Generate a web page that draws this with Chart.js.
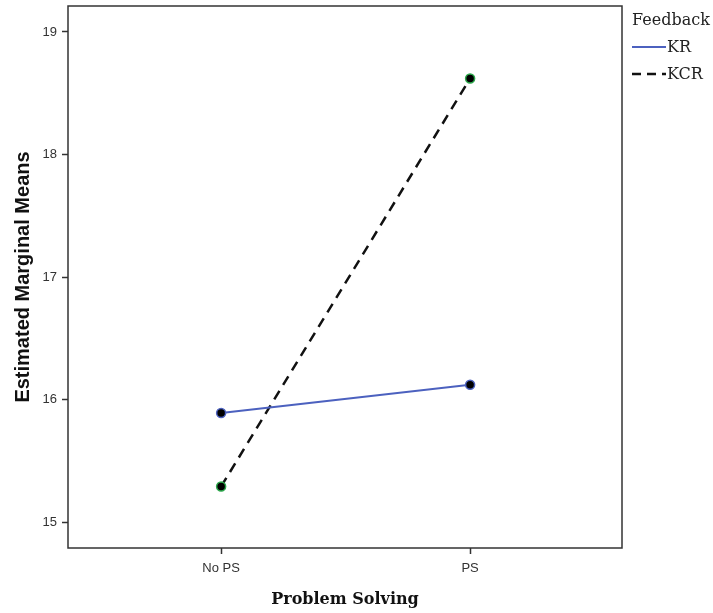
<!DOCTYPE html>
<html>
<head>
<meta charset="utf-8">
<script src="https://cdn.jsdelivr.net/npm/chart.js@4"></script>
<style>
  html, body { margin: 0; padding: 0; background: #fff; }
  #wrap { width: 713px; height: 613px; position: relative; }
</style>
</head>
<body>
<div id="wrap"><canvas id="chart" width="713" height="613"></canvas></div>
<script>
    'use strict';

    // categories on the x axis (positions 0 and 1)
    const categories = ['No PS', 'PS'];
    // estimated marginal means
    const krValues = [15.89, 16.12];
    const kcrValues = [15.29, 18.62];
    const yTicks = [15, 16, 17, 18, 19];

    const seriesNames = ['KR', 'KCR'];
    const legendTitle = 'Feedback';

    const krColor = '#4c61bf';
    const kcrColor = '#111111';

    // draws the plot frame and the legend off to the right
    const frameAndLegend = {
        id: 'frameAndLegend',
        afterDraw(chart) {
            const { ctx, chartArea: a } = chart;
            ctx.save();
            ctx.strokeStyle = '#333';
            ctx.lineWidth = 1.5;
            ctx.strokeRect(a.left, a.top, a.right - a.left, a.bottom - a.top);

            const lx = a.right + 10;
            ctx.font = '16px "DejaVu Serif", serif';
            ctx.fillStyle = '#222';
            ctx.textBaseline = 'middle';
            ctx.textAlign = 'left';
            ctx.fillText(legendTitle, lx, 21);

            // KR entry
            ctx.strokeStyle = krColor;
            ctx.lineWidth = 2;
            ctx.setLineDash([]);
            ctx.beginPath(); ctx.moveTo(lx, 47); ctx.lineTo(lx + 34, 47); ctx.stroke();
            ctx.fillText(seriesNames[0], lx + 35, 48);

            // KCR entry
            ctx.strokeStyle = kcrColor;
            ctx.lineWidth = 2.5;
            ctx.setLineDash([9, 6]);
            ctx.beginPath(); ctx.moveTo(lx, 74); ctx.lineTo(lx + 34, 74); ctx.stroke();
            ctx.setLineDash([]);
            ctx.fillText(seriesNames[1], lx + 35, 75);
            ctx.restore();
        }
    };

    const toPoints = vals => vals.map((v, i) => ({ x: i, y: v }));

    new Chart(document.getElementById('chart'), {
        type: 'line',
        data: {
            datasets: [{
                label: seriesNames[0],
                data: toPoints(krValues),
                borderColor: krColor,
                borderWidth: 2,
                pointBackgroundColor: '#000',
                pointBorderColor: krColor,
                pointBorderWidth: 1.5,
                pointRadius: 4.5,
                tension: 0
            }, {
                label: seriesNames[1],
                data: toPoints(kcrValues),
                borderColor: kcrColor,
                borderWidth: 2.5,
                borderDash: [10, 7],
                pointBackgroundColor: '#000',
                pointBorderColor: '#2ca84c',
                pointBorderWidth: 1.5,
                pointRadius: 4.5,
                tension: 0
            }]
        },
        options: {
            responsive: false,
            animation: false,
            layout: { padding: { top: 0, right: 91, left: 0, bottom: 0 } },
            plugins: { legend: { display: false }, tooltip: { enabled: false } },
            scales: {
                x: {
                    type: 'linear',
                    min: -0.615,
                    max: 1.61,
                    afterBuildTicks: s => { s.ticks = categories.map((c, i) => ({ value: i })); },
                    afterFit: s => { s.height = 65; s.paddingLeft = 0; s.paddingRight = 0; },
                    ticks: {
                        callback: v => categories[v],
                        color: '#333',
                        font: { family: '"Liberation Sans", Arial, sans-serif', size: 13 },
                        padding: 7,
                        maxRotation: 0
                    },
                    grid: { drawOnChartArea: false, tickLength: 6, color: '#333', tickWidth: 1.5 },
                    border: { display: false },
                    title: {
                        display: true,
                        text: 'Problem Solving',
                        color: '#111',
                        font: { family: '"DejaVu Serif", serif', size: 16, weight: 'bold' },
                        padding: { top: 7 }
                    }
                },
                y: {
                    min: 14.788,
                    max: 19.212,
                    afterBuildTicks: s => { s.ticks = yTicks.map(v => ({ value: v })); },
                    afterFit: s => { s.width = 68; s.paddingTop = 0; s.paddingBottom = 0; },
                    ticks: {
                        color: '#333',
                        font: { family: '"Liberation Sans", Arial, sans-serif', size: 13 },
                        padding: 5
                    },
                    grid: { drawOnChartArea: false, tickLength: 6, color: '#333', tickWidth: 1.5 },
                    border: { display: false },
                    title: {
                        display: true,
                        text: 'Estimated Marginal Means',
                        color: '#111',
                        font: { family: '"Liberation Sans", Arial, sans-serif', size: 20, weight: 'bold' },
                        padding: { top: 11, bottom: 0 }
                    }
                }
            }
        },
        plugins: [frameAndLegend]
    });
</script>
</body>
</html>
